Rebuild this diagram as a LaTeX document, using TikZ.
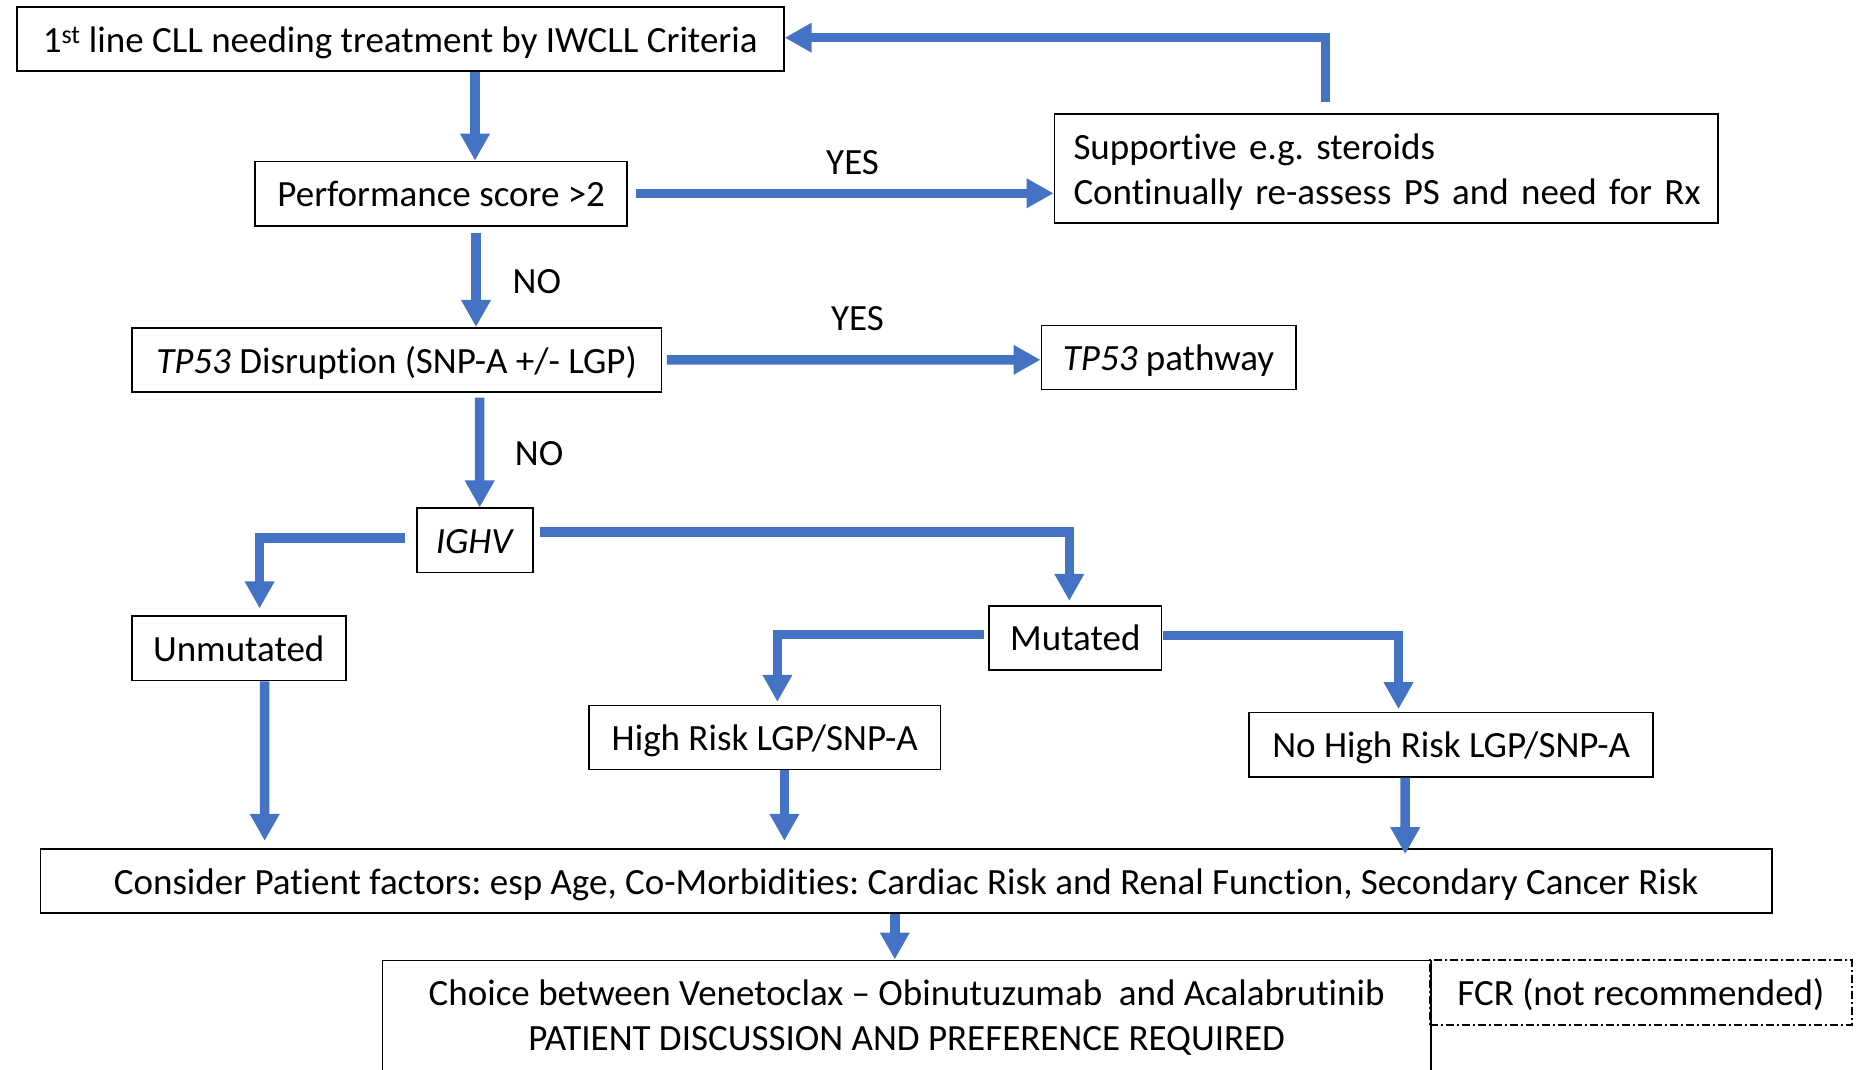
\documentclass[tikz,border=0pt]{standalone}
\usepackage{fontspec}
\setmainfont{Carlito}[Ligatures={NoCommon}]
\usetikzlibrary{arrows.meta}
\definecolor{flowblue}{HTML}{4472C4}
\begin{document}
\frenchspacing
\begin{tikzpicture}[x=1pt,y=-1pt,
 box/.style={draw=black, line width=1.8pt, inner sep=0pt, text height=26.5pt, text depth=0pt, font=\fontsize{37}{45}\selectfont, minimum height=64.1pt},
 mbox/.style={draw=black, line width=1.8pt, inner sep=0pt, font=\fontsize{37}{45}\selectfont},
 lbl/.style={inner sep=0pt, text height=26.5pt, text depth=0pt, font=\fontsize{37}{45}\selectfont},
 arr/.style={draw=flowblue, line width=9.5pt, -{Triangle[width=28pt,length=27pt]}},
]
\useasboundingbox (0,0) rectangle (1862,1069);
\clip (0,0) rectangle (1862,1069);

\node[box, minimum width=767.2pt] (n1) at (400.2,39.2) {1\textsuperscript{st} line CLL needing treatment by IWCLL Criteria};
\node[box, minimum width=371.7pt] (n2) at (441.2,193.6) {Performance score >2};
\node[mbox, minimum width=663.8pt, minimum height=109.3pt, text width=625.8pt, inner xsep=19pt, align=left] (n3) at (1386.4,168.7) {\mbox{\rule{0pt}{32.5pt}Supportive e.g.\ steroids}\\\mbox{Continually re-assess PS and need for Rx}};
\node[box, minimum width=529.6pt] (n4) at (396.6,359.9) {\textit{TP53} Disruption (SNP-A +/- LGP)};
\node[box, minimum width=254.2pt] (n5) at (1168.5,357.5) {\textit{TP53} pathway};
\node[box, minimum width=116.4pt] (n6) at (475,540.4) {\textit{IGHV}};
\node[box, minimum width=213.8pt] (n7) at (238.7,648.4) {Unmutated};
\node[box, minimum width=172.2pt] (n8) at (1075.3,637.7) {Mutated};
\node[box, minimum width=351.5pt] (n9) at (764.8,737.5) {High Risk LGP/SNP-A};
\node[box, minimum width=403.7pt] (n10) at (1451.2,744.6) {No High Risk LGP/SNP-A};
\node[box, minimum width=1731.4pt] (n11) at (906.1,881.1) {Consider Patient factors: esp Age, Co-Morbidities: Cardiac Risk and Renal Function, Secondary Cancer Risk};
\node[mbox, minimum width=1048.6pt, minimum height=114pt, align=center, anchor=north] (n12) at (906.7,959.5) {Choice between Venetoclax – Obinutuzumab~ and Acalabrutinib\\PATIENT DISCUSSION AND PREFERENCE REQUIRED};
\node[box, line width=1.5pt, dash pattern=on 8pt off 3pt on 2pt off 3pt, minimum width=421.7pt, minimum height=65pt] (n13) at (1640.9,992.5) {FCR (not recommended)};

\node[lbl] (y1) at (852.6,161.5) {YES};
\node[lbl] (y2) at (857.4,317) {YES};
\node[lbl] (no1) at (536.8,280.3) {NO};
\node[lbl] (no2) at (539.1,452.4) {NO};

\draw[arr] ([xshift=74.8pt]n1.south) -- ([xshift=33.8pt]n2.north);
\draw[arr] ([xshift=8pt,yshift=0.3pt]n2.east) -- ([yshift=-24.6pt]n3.west);
\draw[arr] ([xshift=-61.1pt,yshift=11.3pt]n3.north) |- ([yshift=1.5pt]n1.east);
\draw[arr] ([xshift=34.8pt,yshift=-6pt]n2.south) -- ([xshift=79.4pt]n4.north);
\draw[arr] ([xshift=4.6pt,yshift=0.1pt]n4.east) -- ([yshift=-2.3pt]n5.west);
\draw[arr] ([xshift=83.1pt,yshift=-4.7pt]n4.south) -- ([xshift=4.7pt]n6.north);
\draw[arr] ([xshift=-11.2pt,yshift=2.6pt]n6.west) -| ([xshift=20.9pt,yshift=7pt]n7.north);
\draw[arr] ([xshift=5.8pt,yshift=8.4pt]n6.east) -| ([xshift=-6pt,yshift=3.9pt]n8.north);
\draw[arr] ([xshift=-3.9pt,yshift=3.4pt]n8.west) -| ([xshift=12.6pt,yshift=2.7pt]n9.north);
\draw[arr] ([xshift=0.9pt,yshift=2.2pt]n8.east) -| ([xshift=-52.7pt,yshift=2.5pt]n10.north);
\draw[arr] ([xshift=26pt]n7.south) -- ([xshift=-641.4pt,yshift=7.3pt]n11.north);
\draw[arr] ([xshift=19.6pt]n9.south) -- ([xshift=-121.7pt,yshift=7.3pt]n11.north);
\draw[arr] ([xshift=-46pt]n10.south) -- ([xshift=499.1pt,yshift=-6pt]n11.north);
\draw[arr] ([xshift=-11.3pt]n11.south) -- ([xshift=-11.9pt]n12.north);
\end{tikzpicture}
\end{document}
